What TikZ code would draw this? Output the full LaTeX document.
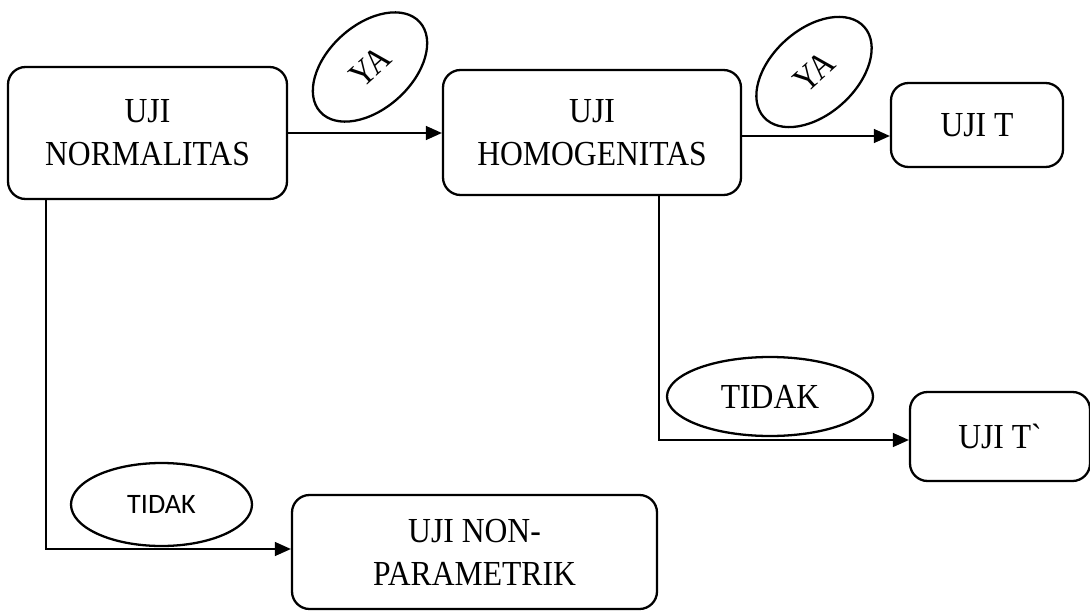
\documentclass[tikz,border=0pt]{standalone}
\usepackage{fontspec}
\setmainfont{Liberation Serif}[FakeStretch=0.9]
\newfontfamily\gravefont{Liberation Serif}[FakeStretch=0.9]
\newfontfamily\calibrifont{Carlito}
\usetikzlibrary{arrows.meta,shapes.geometric}

\begin{document}
\begin{tikzpicture}[
    >={Triangle[length=3.2mm, width=2.8mm]},
    testbox/.style={
        rectangle, draw, line width=1.3pt, rounded corners=10pt,
        align=center, inner sep=0pt,
        font=\fontsize{20}{24.5}\selectfont
    },
    answer/.style={
        ellipse, draw, line width=1.3pt, inner sep=0pt,
        font=\fontsize{20}{24.5}\selectfont
    },
    arr/.style={->, line width=0.75pt}
]
\useasboundingbox (0,0) rectangle (21.8,12.2);
\node[testbox, minimum width=5.58cm, minimum height=2.64cm] (norm) at (2.95, 9.54) {UJI\\NORMALITAS};
\node[testbox, minimum width=5.96cm, minimum height=2.5cm] (homog) at (11.84, 9.55) {UJI\\HOMOGENITAS};
\node[testbox, minimum width=3.44cm, minimum height=1.68cm] (ujit) at (19.54, 9.7) {UJI T};
\node[testbox, minimum width=3.6cm, minimum height=1.78cm] (ujitb) at (20.0, 3.47) {UJI T{\gravefont`}};
\node[testbox, minimum width=7.3cm, minimum height=2.28cm] (nonpar) at (9.49, 1.16) {UJI NON-\\PARAMETRIK};
\node[answer, minimum width=2.68cm, minimum height=1.68cm, rotate=42] (ya1) at (7.4, 10.86) {YA};
\node[answer, minimum width=2.7cm, minimum height=1.7cm, rotate=42] (ya2) at (16.28, 10.76) {YA};
\node[answer, minimum width=4.12cm, minimum height=1.58cm] (tidak2) at (15.4, 4.27) {TIDAK};
\node[answer, minimum width=3.62cm, minimum height=1.66cm, font=\calibrifont\fontsize{16}{19}\selectfont] (tidak1) at (3.23, 2.11) {TIDAK};
\draw[arr] (norm.east |- 0,9.54) -- (homog.west |- 0,9.54);
\draw[arr] (homog.east |- 0,9.48) -- (ujit.west |- 0,9.48);
\draw[arr] ([xshift=1.34cm]homog.south) |- (ujitb.west |- 0,3.40);
\draw[arr] ([xshift=-2.03cm]norm.south) |- (nonpar.west |- 0,1.22);
\end{tikzpicture}
\end{document}
